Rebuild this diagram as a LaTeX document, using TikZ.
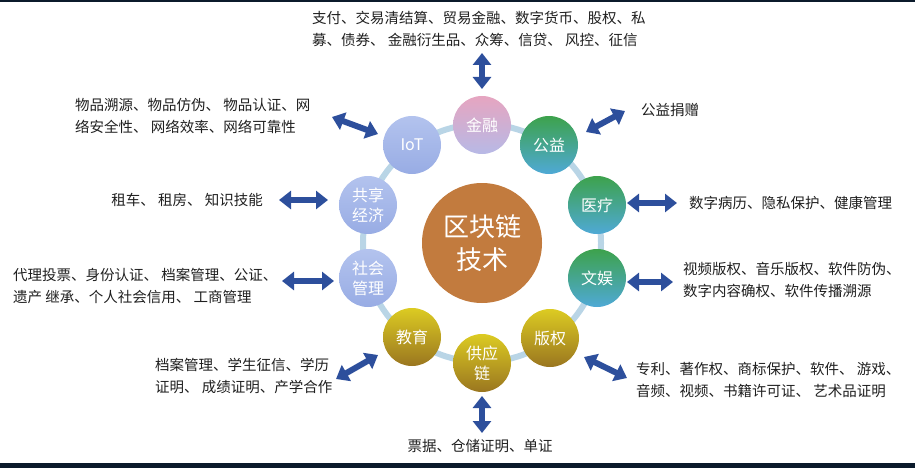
\documentclass[tikz,border=0pt]{standalone}
\usepackage{fontspec}
\setmainfont{Noto Sans CJK SC}
\usetikzlibrary{arrows.meta, positioning}

\definecolor{ringblue}{HTML}{B9D5E6}
\definecolor{arrowblue}{HTML}{2D4F9C}
\definecolor{coreorange}{HTML}{C27B3E}
\definecolor{finpink}{HTML}{E6A5C0}
\definecolor{finlav}{HTML}{B7B9E6}
\definecolor{socblue}{HTML}{B3C3EE}
\definecolor{socblue2}{HTML}{98ACE4}
\definecolor{livegreen}{HTML}{3DA24C}
\definecolor{livecyan}{HTML}{4FA9D6}
\definecolor{supyellow}{HTML}{DCCB22}
\definecolor{supbrown}{HTML}{9A7620}
\definecolor{textgray}{HTML}{1F1F1F}
\definecolor{bandnavy}{HTML}{0B1A2B}

\begin{document}
\begin{tikzpicture}
[x=1pt, y=-1pt,
   ball/.style={shape=circle, minimum size=58pt, inner sep=0pt, text=white, align=center,
     font=\fontsize{16}{20}\selectfont},
   finG/.style={ball, top color=finpink, bottom color=finlav},
   socG/.style={ball, top color=socblue, bottom color=socblue2},
   liveG/.style={ball, top color=livegreen, middle color=livegreen, bottom color=livecyan},
   supG/.style={ball, top color=supyellow, bottom color=supbrown},
   coreG/.style={shape=circle, minimum size=120pt, inner sep=0pt, fill=coreorange, text=white,
     align=center, font=\fontsize{26}{33}\selectfont},
   usecase/.style={inner sep=0pt, align=left, text=textgray, font=\fontsize{14.5}{21.5}\selectfont},
   twoway/.style={line width=6pt, arrowblue,
     arrows={Triangle[width=18pt,length=12pt]-Triangle[width=18pt,length=12pt]}}]
\useasboundingbox (0,0) rectangle (915,468);
\fill[bandnavy] (0,0) rectangle (915,2.5);
\fill[bandnavy] (0,463) rectangle (915,468);
% ring and centre
\draw[ringblue, line width=6pt] (482,243) circle (119);
\node[coreG] (core) at (482,243) {区块链\\技术};
% application fields
\node[finG] (fin) at (482,125) {金融};
\node[liveG] (pub) at (549,145) {公益};
\node[liveG] (med) at (597,205) {医疗};
\node[liveG] (ent) at (597,278) {文娱};
\node[supG] (copy) at (550,338) {版权};
\node[supG] (sup) at (482,363) {供应\\链};
\node[supG] (edu) at (412,337) {教育};
\node[socG] (soc) at (368,278) {社会\\管理};
\node[socG] (share) at (368,205) {共享\\经济};
\node[socG] (iot) at (412,145) {IoT};
% use cases
\node[usecase, anchor=west] (uFin) at (312,29) {支付、交易清结算、贸易金融、数字货币、股权、私\\募、债券、 金融衍生品、众筹、信贷、 风控、征信};
\node[usecase, anchor=west] (uIoT) at (75,116) {物品溯源、物品仿伪、 物品认证、网\\络安全性、 网络效率、网络可靠性};
\node[usecase, anchor=east] (uShare) at (263,200) {租车、 租房、 知识技能};
\node[usecase, anchor=west] (uSoc) at (13,286) {代理投票、身份认证、 档案管理、公证、\\遗产 继承、个人社会信用、 工商管理};
\node[usecase, anchor=west] (uEdu) at (155,376) {档案管理、学生征信、学历\\证明、 成绩证明、产学合作};
\node[usecase] (uSup) at (480,446) {票据、仓储证明、单证};
\node[usecase, anchor=west] (uPub) at (641,110) {公益捐赠};
\node[usecase, anchor=west] (uMed) at (689,203) {数字病历、隐私保护、健康管理};
\node[usecase, anchor=west] (uEnt) at (683,280) {视频版权、音乐版权、软件防伪、\\数字内容确权、软件传播溯源};
\node[usecase, anchor=west] (uCopy) at (636,380) {专利、著作权、商标保护、软件、 游戏、\\音频、视频、书籍许可证、 艺术品证明};
% arrows
\coordinate (finA) at (482,53);   \coordinate (finB) at (482,89);
\coordinate (pubA) at (586,132);  \coordinate (pubB) at (625,111);
\coordinate (medA) at (627,203);  \coordinate (medB) at (677,203);
\coordinate (entA) at (627,282);  \coordinate (entB) at (673,282);
\coordinate (copyA) at (584,357); \coordinate (copyB) at (627,378);
\coordinate (supA) at (482,396);  \coordinate (supB) at (482,433);
\coordinate (eduA) at (336,379);  \coordinate (eduB) at (378,355);
\coordinate (socA) at (282,281);  \coordinate (socB) at (334,281);
\coordinate (shareA) at (279,200); \coordinate (shareB) at (328,200);
\coordinate (iotA) at (332,117);  \coordinate (iotB) at (378,134);
\foreach \f in {fin, pub, med, ent, copy, sup, edu, soc, share, iot}
  \draw[twoway] (\f A) -- (\f B);
\end{tikzpicture}
\end{document}
